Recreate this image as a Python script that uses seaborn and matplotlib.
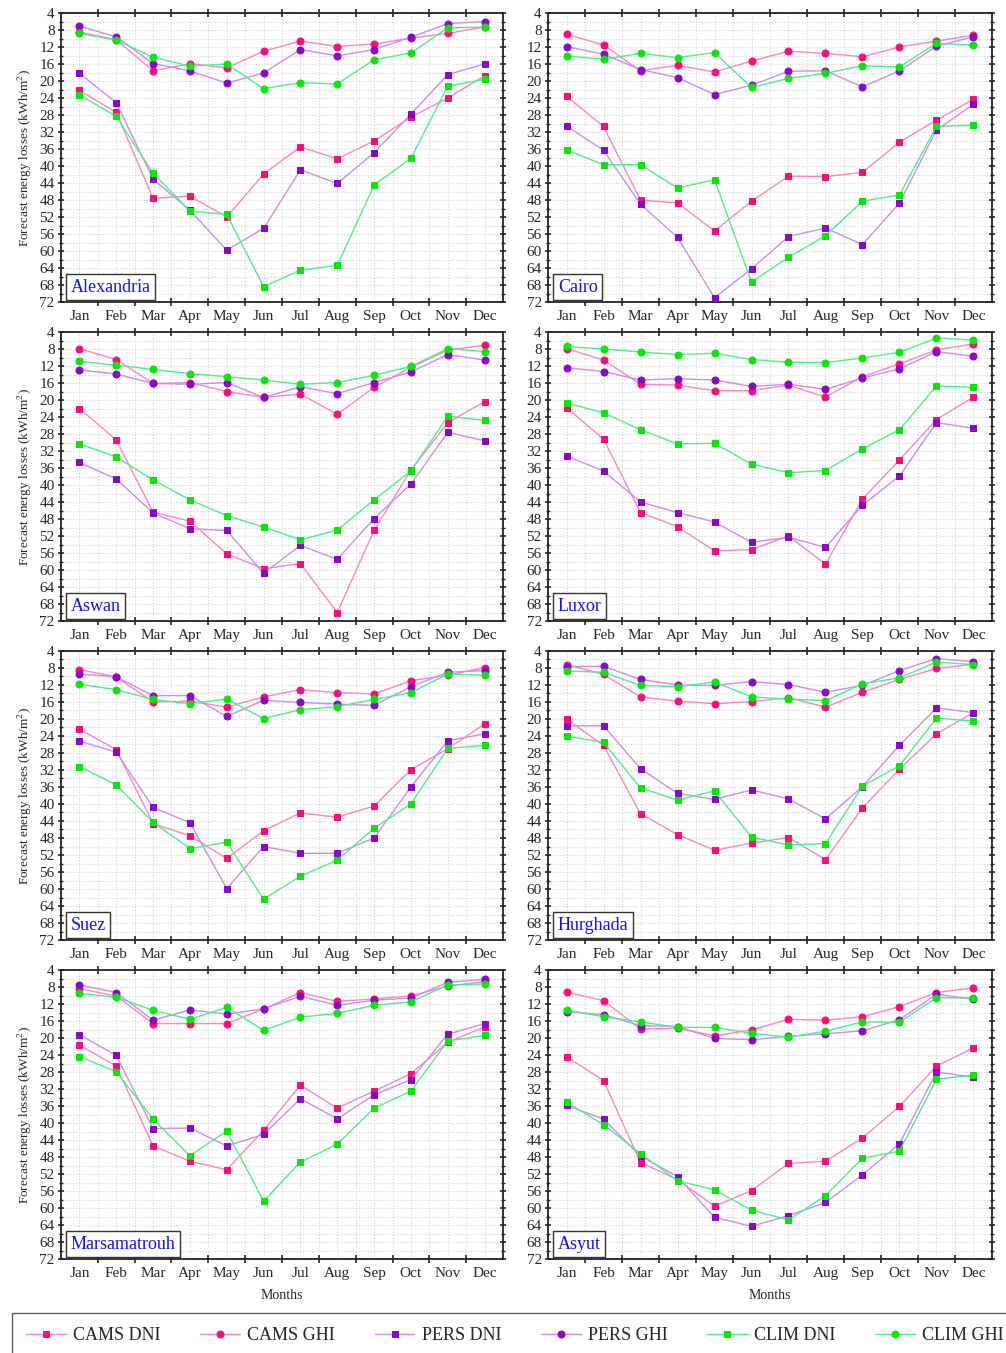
import numpy as np
import pandas as pd
import matplotlib
matplotlib.use("Agg")
import matplotlib.pyplot as plt
from matplotlib.ticker import MultipleLocator
import seaborn as sns

MONTHS = ["Jan", "Feb", "Mar", "Apr", "May", "Jun",
          "Jul", "Aug", "Sep", "Oct", "Nov", "Dec"]
CITIES = ["Alexandria", "Cairo", "Aswan", "Luxor",
          "Suez", "Hurghada", "Marsamatrouh", "Asyut"]
SERIES = ["CAMS DNI", "CAMS GHI", "PERS DNI", "PERS GHI", "CLIM DNI", "CLIM GHI"]

# values (kWh/m2), Jan..Dec
ALEX_CAMS_DNI = [22.2, 27.4, 47.6, 47.1, 52.0, 41.9, 35.5, 38.3, 34.1, 28.5, 24.0, 18.8]
ALEX_CAMS_GHI = [8.5, 10.3, 17.6, 15.9, 16.9, 13.0, 10.6, 11.9, 11.3, 9.9, 8.8, 7.3]
ALEX_PERS_DNI = [18.2, 25.1, 43.1, 50.4, 59.8, 54.7, 40.9, 44.1, 36.9, 27.8, 18.5, 16.0]
ALEX_PERS_GHI = [7.1, 9.6, 15.9, 17.6, 20.5, 18.1, 12.6, 14.1, 12.6, 9.7, 6.5, 6.0]
ALEX_CLIM_DNI = [23.3, 28.3, 41.7, 50.6, 51.4, 68.4, 64.5, 63.4, 44.5, 38.2, 21.2, 19.6]
ALEX_CLIM_GHI = [8.8, 10.4, 14.4, 16.5, 16.0, 21.8, 20.4, 20.7, 15.0, 13.4, 7.5, 7.3]

CAIRO_CAMS_DNI = [23.6, 30.7, 48.0, 48.7, 55.3, 48.3, 42.4, 42.5, 41.5, 34.4, 29.2, 24.3]
CAIRO_CAMS_GHI = [9.0, 11.5, 17.6, 16.3, 17.9, 15.3, 13.0, 13.5, 14.3, 12.0, 10.6, 9.2]
CAIRO_PERS_DNI = [30.6, 36.3, 49.0, 56.8, 71.0, 64.2, 56.6, 54.6, 58.5, 48.7, 31.5, 25.5]
CAIRO_PERS_GHI = [11.9, 13.7, 17.3, 19.2, 23.2, 21.0, 17.7, 17.6, 21.4, 17.6, 11.8, 9.6]
CAIRO_CLIM_DNI = [36.2, 39.7, 39.7, 45.2, 43.2, 67.3, 61.5, 56.4, 48.3, 46.8, 30.7, 30.4]
CAIRO_CLIM_GHI = [14.1, 14.9, 13.5, 14.5, 13.3, 21.5, 19.4, 18.2, 16.4, 16.7, 11.1, 11.6]

ASWAN_CAMS_DNI = [22.0, 29.4, 46.4, 48.5, 56.2, 59.7, 58.5, 70.0, 50.7, 36.5, 25.3, 20.4]
ASWAN_CAMS_GHI = [7.9, 10.5, 16.1, 15.9, 18.0, 19.4, 18.6, 23.4, 17.0, 12.3, 8.3, 7.1]
ASWAN_PERS_DNI = [34.7, 38.6, 46.6, 50.3, 50.7, 60.8, 54.2, 57.5, 47.9, 39.8, 27.6, 29.6]
ASWAN_PERS_GHI = [12.9, 13.9, 16.1, 16.3, 15.9, 19.4, 16.9, 18.5, 15.9, 13.4, 9.3, 10.6]
ASWAN_CLIM_DNI = [30.3, 33.4, 38.8, 43.5, 47.2, 49.9, 52.9, 50.6, 43.5, 36.7, 23.8, 24.8]
ASWAN_CLIM_GHI = [10.9, 11.8, 12.8, 13.8, 14.5, 15.3, 16.3, 15.9, 14.2, 12.1, 7.9, 8.6]

LUXOR_CAMS_DNI = [21.8, 29.2, 46.5, 49.8, 55.5, 55.2, 52.0, 58.6, 43.3, 34.1, 24.6, 19.3]
LUXOR_CAMS_GHI = [7.9, 10.6, 16.3, 16.5, 17.8, 17.8, 16.5, 19.3, 14.5, 11.5, 8.2, 6.8]
LUXOR_PERS_DNI = [33.2, 36.7, 44.0, 46.5, 48.7, 53.5, 52.3, 54.7, 44.7, 37.9, 25.3, 26.7]
LUXOR_PERS_GHI = [12.4, 13.3, 15.3, 15.0, 15.3, 16.8, 16.3, 17.5, 14.8, 12.7, 8.6, 9.7]
LUXOR_CLIM_DNI = [20.7, 23.0, 27.0, 30.3, 30.2, 35.1, 37.1, 36.6, 31.5, 27.0, 16.7, 17.0]
LUXOR_CLIM_GHI = [7.4, 8.0, 8.7, 9.3, 9.0, 10.5, 11.1, 11.2, 10.1, 8.8, 5.4, 5.9]

SUEZ_CAMS_DNI = [22.4, 27.2, 44.6, 47.5, 52.8, 46.3, 42.1, 43.1, 40.5, 31.9, 27.0, 21.2]
SUEZ_CAMS_GHI = [8.4, 10.1, 16.0, 15.8, 17.2, 14.8, 13.1, 13.8, 14.1, 11.0, 9.7, 7.9]
SUEZ_PERS_DNI = [25.2, 27.8, 40.8, 44.4, 59.9, 50.0, 51.6, 51.6, 48.0, 36.0, 25.1, 23.5]
SUEZ_PERS_GHI = [9.4, 10.1, 14.5, 14.5, 19.4, 15.6, 16.1, 16.5, 16.8, 12.4, 9.0, 8.6]
SUEZ_CLIM_DNI = [31.2, 35.5, 44.3, 50.5, 49.0, 62.4, 57.0, 53.2, 45.7, 40.0, 26.9, 26.2]
SUEZ_CLIM_GHI = [11.8, 13.1, 15.4, 16.4, 15.3, 19.9, 17.8, 17.1, 15.4, 13.8, 9.4, 9.7]

HURG_CAMS_DNI = [20.0, 26.2, 42.3, 47.2, 50.9, 49.2, 47.9, 53.1, 40.9, 31.8, 23.5, 18.5]
HURG_CAMS_GHI = [7.2, 9.5, 14.8, 15.8, 16.4, 15.9, 15.0, 17.2, 13.7, 10.7, 8.1, 7.1]
HURG_PERS_DNI = [21.6, 21.6, 31.7, 37.5, 38.9, 36.7, 38.8, 43.5, 35.9, 26.2, 17.4, 18.5]
HURG_PERS_GHI = [7.7, 7.6, 10.7, 12.0, 12.1, 11.2, 11.9, 13.7, 12.1, 8.6, 5.8, 6.5]
HURG_CLIM_DNI = [24.0, 25.5, 36.2, 39.1, 36.9, 47.8, 49.6, 49.3, 35.8, 31.0, 19.8, 20.5]
HURG_CLIM_GHI = [8.7, 9.0, 12.1, 12.4, 11.3, 14.8, 15.3, 15.7, 11.7, 10.3, 6.6, 7.2]

MARSA_CAMS_DNI = [21.7, 26.6, 45.4, 49.0, 51.0, 41.7, 31.1, 36.5, 32.5, 28.4, 21.0, 17.4]
MARSA_CAMS_GHI = [8.4, 10.1, 16.6, 16.6, 16.6, 13.2, 9.3, 11.4, 10.8, 10.1, 7.8, 6.7]
MARSA_PERS_DNI = [19.2, 24.1, 41.3, 41.2, 45.4, 42.7, 34.3, 39.0, 33.4, 29.8, 19.1, 16.6]
MARSA_PERS_GHI = [7.5, 9.3, 15.8, 13.4, 14.4, 13.1, 10.2, 12.3, 11.1, 10.6, 6.9, 6.2]
MARSA_CLIM_DNI = [24.4, 27.9, 39.1, 47.7, 41.9, 58.4, 49.2, 45.0, 36.5, 32.5, 20.7, 19.4]
MARSA_CLIM_GHI = [9.5, 10.4, 13.5, 15.6, 12.8, 18.2, 15.1, 14.2, 12.3, 11.5, 7.5, 7.3]

ASYUT_CAMS_DNI = [24.4, 30.0, 49.3, 53.3, 59.6, 55.9, 49.5, 49.0, 43.5, 36.1, 26.6, 22.3]
ASYUT_CAMS_GHI = [9.2, 11.2, 17.9, 17.7, 19.5, 18.1, 15.6, 15.8, 15.0, 12.6, 9.3, 8.2]
ASYUT_PERS_DNI = [35.8, 39.1, 47.8, 52.6, 62.2, 64.3, 61.8, 58.7, 52.2, 44.9, 28.0, 29.2]
ASYUT_PERS_GHI = [13.8, 14.5, 17.1, 17.3, 20.1, 20.4, 19.6, 19.0, 18.3, 15.7, 9.7, 10.9]
ASYUT_CLIM_DNI = [35.1, 40.4, 47.2, 53.6, 55.7, 60.5, 62.8, 57.1, 48.3, 46.6, 29.7, 28.7]
ASYUT_CLIM_GHI = [13.4, 15.0, 16.2, 17.5, 17.5, 18.9, 19.8, 18.4, 16.2, 16.3, 10.5, 10.6]

CITY_DATA = {
    "Alexandria": [ALEX_CAMS_DNI, ALEX_CAMS_GHI, ALEX_PERS_DNI, ALEX_PERS_GHI, ALEX_CLIM_DNI, ALEX_CLIM_GHI],
    "Cairo": [CAIRO_CAMS_DNI, CAIRO_CAMS_GHI, CAIRO_PERS_DNI, CAIRO_PERS_GHI, CAIRO_CLIM_DNI, CAIRO_CLIM_GHI],
    "Aswan": [ASWAN_CAMS_DNI, ASWAN_CAMS_GHI, ASWAN_PERS_DNI, ASWAN_PERS_GHI, ASWAN_CLIM_DNI, ASWAN_CLIM_GHI],
    "Luxor": [LUXOR_CAMS_DNI, LUXOR_CAMS_GHI, LUXOR_PERS_DNI, LUXOR_PERS_GHI, LUXOR_CLIM_DNI, LUXOR_CLIM_GHI],
    "Suez": [SUEZ_CAMS_DNI, SUEZ_CAMS_GHI, SUEZ_PERS_DNI, SUEZ_PERS_GHI, SUEZ_CLIM_DNI, SUEZ_CLIM_GHI],
    "Hurghada": [HURG_CAMS_DNI, HURG_CAMS_GHI, HURG_PERS_DNI, HURG_PERS_GHI, HURG_CLIM_DNI, HURG_CLIM_GHI],
    "Marsamatrouh": [MARSA_CAMS_DNI, MARSA_CAMS_GHI, MARSA_PERS_DNI, MARSA_PERS_GHI, MARSA_CLIM_DNI, MARSA_CLIM_GHI],
    "Asyut": [ASYUT_CAMS_DNI, ASYUT_CAMS_GHI, ASYUT_PERS_DNI, ASYUT_PERS_GHI, ASYUT_CLIM_DNI, ASYUT_CLIM_GHI],
}

# style per series: (line colour, marker colour, marker)
STYLES = {
    "CAMS DNI": ("#ff85bd", "#ff0a78", "s"),
    "CAMS GHI": ("#ff85bd", "#ff0a78", "o"),
    "PERS DNI": ("#cc8cf2", "#8a06c8", "s"),
    "PERS GHI": ("#cc8cf2", "#8a06c8", "o"),
    "CLIM DNI": ("#4cf08a", "#08e608", "s"),
    "CLIM GHI": ("#4cf08a", "#08e608", "o"),
}

sns.set_style("white")
plt.rcParams["font.family"] = ["Liberation Serif", "DejaVu Serif"]
plt.rcParams["mathtext.fontset"] = "stix"

fig = plt.figure(figsize=(10.06, 13.53), dpi=100)
W, H = 1006.0, 1353.0
col_x = [61, 548]
col_w = [442, 444]
row_top = [13, 332, 651, 970]
row_h = 289

handles = None
for i, city in enumerate(CITIES):
    r, c = divmod(i, 2)
    ax = fig.add_axes([col_x[c] / W, 1 - (row_top[r] + row_h) / H, col_w[c] / W, row_h / H])
    df = pd.DataFrame({"month": np.arange(12)})
    for name, vals in zip(SERIES, CITY_DATA[city]):
        df[name] = vals
    for name in SERIES:
        lc, mc, mk = STYLES[name]
        sns.lineplot(data=df, x="month", y=name, ax=ax, color=lc, linewidth=1.0,
                     marker=mk, markersize=5, markerfacecolor=mc, markeredgecolor=mc,
                     label=name, legend=False, zorder=3)
    ax.set_xlim(-0.5, 11.5)
    ax.set_ylim(72, 4)
    ax.set_xticks(np.arange(0.5, 11, 1))
    ax.set_xticklabels([])
    ax.set_xticks(np.arange(12), minor=True)
    ax.set_xticklabels(MONTHS, minor=True, fontsize=11)
    ax.yaxis.set_major_locator(MultipleLocator(4))
    ax.yaxis.set_minor_locator(MultipleLocator(2))
    ax.tick_params(axis="y", which="major", labelsize=11, length=5, width=1.2,
                   direction="inout", left=True, right=True, pad=2)
    ax.tick_params(axis="y", which="minor", length=3, width=1.0,
                   direction="inout", left=True, right=True)
    ax.tick_params(axis="x", which="major", length=6, width=1.2,
                   direction="inout", top=True, bottom=True)
    ax.tick_params(axis="x", which="minor", length=0, pad=6)
    ax.grid(True, which="both", color="#d4d4d4", linestyle=":", linewidth=0.8, zorder=0)
    for sp in ax.spines.values():
        sp.set_color("#222222")
        sp.set_linewidth(1.3)
    ax.set_xlabel("Months" if r == 3 else "", fontsize=10, labelpad=6)
    if c == 0:
        ax.set_ylabel("Forecast energy losses (kWh/m$^2$)", fontsize=9.5, labelpad=4)
    else:
        ax.set_ylabel("")
    ax.text(0.022, 0.022, city, transform=ax.transAxes, color="#1010ff", fontsize=13,
            ha="left", va="bottom", zorder=5,
            bbox=dict(boxstyle="square,pad=0.25", facecolor="white",
                      edgecolor="#333333", linewidth=1.0))
    if handles is None:
        handles, labels = ax.get_legend_handles_labels()

leg = fig.legend(handles, labels, loc="upper left", ncol=6, mode="expand",
                 bbox_to_anchor=(12 / W, 0.0, 1.0, 1 - 1313 / H), fontsize=13,
                 frameon=True, fancybox=False, handlelength=2.2, handletextpad=0.4,
                 borderpad=0.8, borderaxespad=0.0)
leg.get_frame().set_edgecolor("#333333")
leg.get_frame().set_linewidth(1.0)

fig.savefig("out.png", dpi=100)
